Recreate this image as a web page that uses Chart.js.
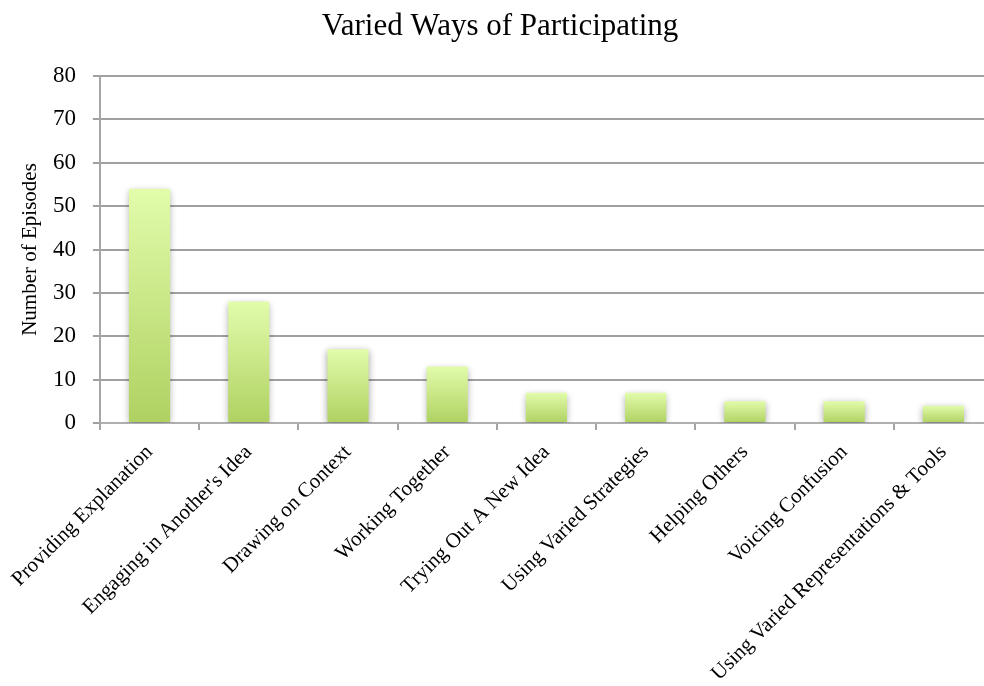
<!DOCTYPE html>
<html>
<head>
<meta charset="utf-8">
<script src="https://cdn.jsdelivr.net/npm/chart.js@4"></script>
<style>
  html, body { margin: 0; padding: 0; background: #fff; overflow: hidden; }
  #wrap { width: 984px; height: 686px; position: relative; overflow: hidden; }
  #c { display: block; }
</style>
</head>
<body>
<div id="wrap"><canvas id="c" width="993" height="686"></canvas></div>
<script>
const chartTitle = 'Varied Ways of Participating';
const yAxisTitle = 'Number of Episodes';
const categories = [
  'Providing Explanation',
  "Engaging in Another's Idea",
  'Drawing on Context',
  'Working Together',
  'Trying Out A New Idea',
  'Using Varied Strategies',
  'Helping Others',
  'Voicing Confusion',
  'Using Varied Representations & Tools'
];
const episodes = [54, 28, 17, 13, 7, 7, 5, 5, 4];
const yMin = 0, yMax = 80, yStep = 10;

const FONT = "'Liberation Serif', 'Times New Roman', serif";

const titlePlugin = {
  id: 'customTitle',
  afterDraw(chart) {
    const ctx = chart.ctx;
    ctx.save();
    ctx.font = '31px ' + FONT;
    ctx.fillStyle = '#000';
    ctx.textAlign = 'center';
    ctx.textBaseline = 'alphabetic';
    ctx.fillText(chartTitle, 500, 35);
    ctx.restore();
  }
};

const shadowPlugin = {
  id: 'barShadow',
  beforeDatasetsDraw(chart) {
    const ctx = chart.ctx;
    ctx.save();
    ctx.shadowColor = 'rgba(0,0,0,0.35)';
    ctx.shadowBlur = 7;
    ctx.shadowOffsetX = 0;
    ctx.shadowOffsetY = 2;
  },
  afterDatasetsDraw(chart) {
    chart.ctx.restore();
  }
};

new Chart(document.getElementById('c'), {
  type: 'bar',
  data: {
    labels: categories,
    datasets: [{
      data: episodes,
      backgroundColor: (c) => {
        const chart = c.chart;
        const { ctx, chartArea, scales } = chart;
        if (!chartArea || c.type !== 'data' || !scales.y) return '#c8e486';
        const top = scales.y.getPixelForValue(c.raw);
        const base = scales.y.getPixelForValue(0);
        const g = ctx.createLinearGradient(0, top, 0, base);
        g.addColorStop(0, '#e2fcab');
        g.addColorStop(1, '#afd161');
        return g;
      },
      borderWidth: 0,
      categoryPercentage: 1.0,
      barPercentage: 0.415
    }]
  },
  options: {
    responsive: false,
    animation: false,
    events: [],
    layout: { padding: { top: 76, right: 0, left: 0, bottom: 0 } },
    plugins: {
      legend: { display: false },
      title: { display: false },
      tooltip: { enabled: false }
    },
    scales: {
      x: {
        grid: {
          display: true,
          drawOnChartArea: false,
          drawTicks: true,
          tickLength: 7,
          offset: true,
          color: '#a6a6a6',
          lineWidth: 2
        },
        border: { display: true, color: '#b0b0b0', width: 2 },
        ticks: {
          autoSkip: false,
          maxRotation: 45,
          minRotation: 45,
          padding: 10,
          color: '#000',
          font: { family: FONT, size: 21 }
        },
        afterFit(scale) { scale.height = 263; }
      },
      y: {
        min: yMin,
        max: yMax,
        ticks: {
          stepSize: yStep,
          padding: 17,
          color: '#000',
          font: { family: FONT, size: 23 }
        },
        grid: {
          color: '#a0a0a0',
          lineWidth: 2,
          tickLength: 7,
          drawTicks: true
        },
        border: { display: true, color: '#a6a6a6', width: 2 },
        title: {
          display: true,
          text: yAxisTitle,
          color: '#000',
          font: { family: FONT, size: 21 },
          padding: { top: 17, bottom: 0 }
        },
        afterFit(scale) { scale.width = 99; }
      }
    }
  },
  plugins: [titlePlugin, shadowPlugin]
});
</script>
</body>
</html>
